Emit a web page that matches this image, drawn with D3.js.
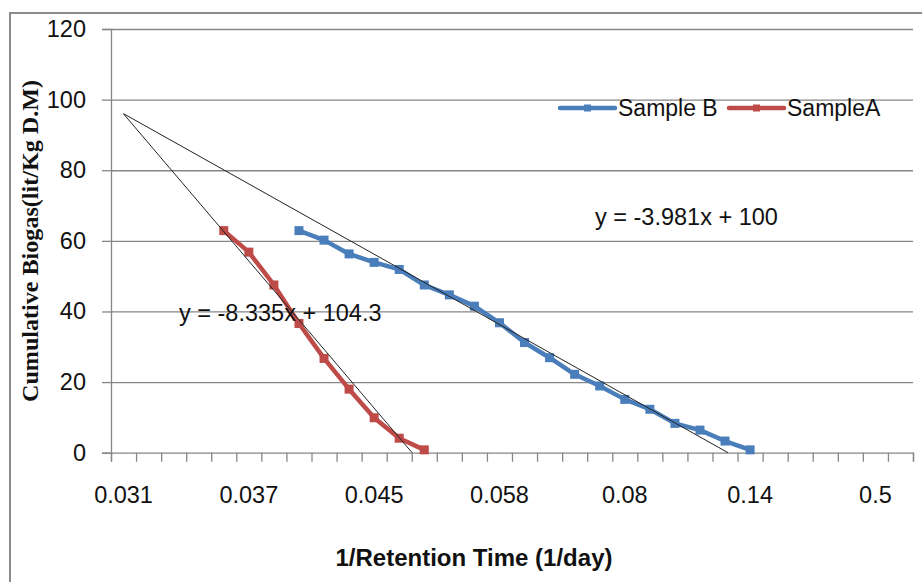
<!DOCTYPE html>
<html>
<head>
<meta charset="utf-8">
<script src="https://cdn.jsdelivr.net/npm/d3@7"></script>
<style>
  html, body { margin: 0; padding: 0; background: #fff; }
  svg { display: block; }
  text { font-family: "Liberation Sans", Arial, sans-serif; fill: #111; }
</style>
</head>
<body>
<svg id="chart" width="922" height="582"></svg>
<script>
// ---- data ----
const categoryCount = 32;
const tickLabels = ["0.031", "0.037", "0.045", "0.058", "0.08", "0.14", "0.5"];
const tickLabelIndex = [0, 5, 10, 15, 20, 25, 30];
const yTicks = [0, 20, 40, 60, 80, 100, 120];
const seriesNames = ["Sample B", "SampleA"];
const sampleB = [null, null, null, null, null, null, null,
  62.9, 60.2, 56.3, 53.9, 51.9, 47.5, 44.7, 41.5, 36.8, 31.2, 26.9, 22.2,
  18.9, 15.1, 12.3, 8.3, 6.4, 3.3, 0.8];
const sampleA = [null, null, null, null,
  62.9, 56.8, 47.5, 36.6, 26.7, 18.0, 9.9, 4.1, 0.8];
const trendSlopes = [-3.981, -8.335];
const trendIntercepts = [100, 104.3];
const trendLabels = ["y = -3.981x + 100", "y = -8.335x + 104.3"];
const colors = ["#4A7EBB", "#BE4B48"];

(function () {
// ---- layout ----
const svg = d3.select("#chart");
const pLeft = 111, pRight = 913, pTop = 29, pBottom = 452.7;
const x = d3.scaleLinear().domain([0.5, categoryCount + 0.5]).range([pLeft, pRight]); // 1-based category
const y = d3.scaleLinear().domain([0, 120]).range([pBottom, pTop]);

// outer border
svg.append("rect").attr("x", 10).attr("y", 13).attr("width", 940).attr("height", 620)
  .attr("fill", "none").attr("stroke", "#8c8c8c").attr("stroke-width", 2);

// horizontal gridlines + y axis
const yAxis = d3.axisLeft(y).tickValues(yTicks).tickSize(9).tickPadding(16);
const gy = svg.append("g").attr("transform", `translate(${pLeft},0)`).call(yAxis);
gy.select(".domain").attr("stroke", "#868686").attr("stroke-width", 1.3);
gy.selectAll(".tick line").attr("stroke", "#868686").attr("stroke-width", 1.3);
gy.selectAll(".tick text").style("font-size", "23.5px").style("font-family", "Liberation Sans").style("fill", "#111");
gy.selectAll(".tick").filter(d => d > 0).append("line")
  .attr("x1", 0).attr("x2", pRight - pLeft).attr("stroke", "#868686").attr("stroke-width", 1.3);

// x axis (category boundaries as ticks)
const boundaries = d3.range(0, categoryCount + 1).map(i => i + 0.5);
const xAxis = d3.axisBottom(x).tickValues(boundaries).tickSize(9).tickFormat("");
const gx = svg.append("g").attr("transform", `translate(0,${pBottom})`).call(xAxis);
gx.select(".domain").attr("stroke", "#868686").attr("stroke-width", 1.3);
gx.selectAll(".tick line").attr("stroke", "#868686").attr("stroke-width", 1.3);

// x tick labels
svg.append("g").selectAll("text").data(tickLabels).join("text")
  .attr("x", (d, i) => x(tickLabelIndex[i] + 1))
  .attr("y", 503)
  .attr("text-anchor", "middle")
  .style("font-size", "23.5px")
  .text(d => d);

// series
const seriesData = [sampleB, sampleA];
seriesData.forEach((arr, si) => {
  const pts = arr.map((v, i) => ({ k: i + 1, v })).filter(d => d.v !== null);
  const line = d3.line().x(d => x(d.k)).y(d => y(d.v));
  svg.append("path").datum(pts).attr("d", line)
    .attr("fill", "none").attr("stroke", colors[si]).attr("stroke-width", 4.5)
    .attr("stroke-linejoin", "round").attr("stroke-linecap", "round");
  svg.append("g").selectAll("rect").data(pts).join("rect")
    .attr("x", d => x(d.k) - 4.5).attr("y", d => y(d.v) - 4.5)
    .attr("width", 9).attr("height", 9).attr("fill", colors[si]);
});

// trendlines (drawn over series)
trendSlopes.forEach((m, i) => {
  const b = trendIntercepts[i];
  const kEnd = -b / m; // where y = 0
  svg.append("line")
    .attr("x1", x(1)).attr("y1", y(m * 1 + b))
    .attr("x2", x(kEnd)).attr("y2", y(0))
    .attr("stroke", "#222").attr("stroke-width", 1);
});

// trend equation labels
svg.append("text").attr("x", 595).attr("y", 225).style("font-size", "23.5px").text(trendLabels[0]);
svg.append("text").attr("x", 179).attr("y", 321).style("font-size", "23.5px").text(trendLabels[1]);

// legend
const legendX = [560, 729];
seriesNames.forEach((name, i) => {
  const lx = legendX[i], ly = 108;
  svg.append("line").attr("x1", lx).attr("x2", lx + 55).attr("y1", ly).attr("y2", ly)
    .attr("stroke", colors[i]).attr("stroke-width", 4.5).attr("stroke-linecap", "round");
  svg.append("rect").attr("x", lx + 27.5 - 3.5).attr("y", ly - 3.5).attr("width", 7).attr("height", 7)
    .attr("fill", colors[i]);
  svg.append("text").attr("x", lx + 58).attr("y", ly + 8).style("font-size", "23px").text(name);
});

// axis titles
svg.append("text").attr("x", 474).attr("y", 566).attr("text-anchor", "middle")
  .style("font-size", "24px").style("font-weight", "bold")
  .text("1/Retention Time (1/day)");
svg.append("text")
  .attr("transform", "translate(38,241) rotate(-90)")
  .attr("text-anchor", "middle")
  .style("font-family", "'Liberation Serif', 'Times New Roman', serif")
  .style("font-size", "23px").style("font-weight", "bold")
  .attr("textLength", 322).attr("lengthAdjust", "spacingAndGlyphs")
  .text("Cumulative Biogas(lit/Kg D.M)");
})();
</script>
</body>
</html>
